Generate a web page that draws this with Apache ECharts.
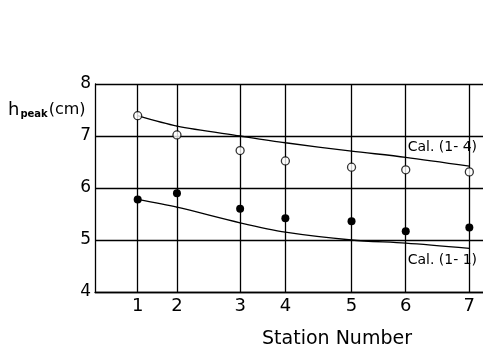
<!DOCTYPE html>
<html><head><meta charset="utf-8">
<script src="https://cdn.jsdelivr.net/npm/echarts@6/dist/echarts.min.js"></script>
<style>html,body{margin:0;padding:0;background:#fff}#c{width:483px;height:350px}</style>
</head><body><div id="c"></div>
<script>
const stationLabels = ['1','2','3','4','5','6','7'];
const stationPos = [1.00, 1.92, 3.40, 4.46, 6.01, 7.28, 8.77];
const yTicks = [4,5,6,7,8];
const measuredOpen = [7.39, 7.02, 6.72, 6.52, 6.40, 6.35, 6.31];
const measuredFilled = [5.78, 5.90, 5.60, 5.42, 5.36, 5.17, 5.24];
const cal14 = [7.39, 7.19, 7.00, 6.87, 6.71, 6.59, 6.42];
const cal11 = [5.78, 5.63, 5.33, 5.15, 5.00, 4.94, 4.84];
const FONT = 'DejaVu Sans';

const pair = arr => arr.map((v,i)=>[stationPos[i], v]);
function withEndLabel(arr, text, pos, offset){
  const d = pair(arr);
  const last = d.length-1;
  d[last] = {value: d[last], label:{show:true, formatter:text, position:pos, offset:offset,
    color:'#000', fontFamily:FONT, fontSize:14, backgroundColor:'#fff', padding:[1,1]}};
  return d;
}

const chart = echarts.init(document.getElementById('c'));
chart.setOption({
  animation:false,
  backgroundColor:'#fff',
  grid:{left:95, right:0, top:84, bottom:58},
  xAxis:{type:'value', min:0, max:9.09,
    axisLine:{show:true, lineStyle:{color:'#000', width:1.3}},
    axisTick:{show:false},
    splitLine:{show:false},
    axisLabel:{customValues:stationPos, color:'#000', fontFamily:FONT, fontSize:18, margin:5,
      formatter:v=>{const i=stationPos.findIndex(p=>Math.abs(p-v)<1e-6); return i>=0?stationLabels[i]:'';}}
  },
  yAxis:{type:'value', min:yTicks[0], max:yTicks[yTicks.length-1], interval:1,
    axisLine:{show:true, lineStyle:{color:'#000', width:1.3}},
    axisTick:{show:false},
    splitLine:{show:true, lineStyle:{color:'#000', width:1.3}},
    axisLabel:{color:'#000', fontFamily:FONT, fontSize:17, margin:4}
  },
  graphic:[
    {type:'text', left:8, top:101, style:{
      text:'{h|h}{s|peak}{c|(cm)}',
      rich:{h:{fontSize:18, fontFamily:FONT, fill:'#000'},
            s:{fontSize:10, fontWeight:'bold', fontFamily:FONT, fill:'#000', padding:[8,1,0,1]},
            c:{fontSize:16, fontFamily:FONT, fill:'#000'}}}},
    {type:'text', x:337, y:339, style:{text:'Station Number', fontSize:19, fontFamily:FONT, fill:'#000',
      align:'center', verticalAlign:'middle'}}
  ],
  series:[
    {type:'line', data:withEndLabel(cal14,'Cal. (1- 4)','top',[-27,-5]), smooth:0.3,
      symbol:'circle', symbolSize:1, showSymbol:true, itemStyle:{color:'#000'},
      lineStyle:{color:'#000', width:1.3}, z:3},
    {type:'line', data:withEndLabel(cal11,'Cal. (1- 1)','bottom',[-27,-1]), smooth:0.3,
      symbol:'circle', symbolSize:1, showSymbol:true, itemStyle:{color:'#000'},
      lineStyle:{color:'#000', width:1.3}, z:3},
    {type:'scatter', data:pair(measuredOpen), symbol:'circle', symbolSize:8,
      itemStyle:{color:'#fff', borderColor:'#000', borderWidth:1.3}, z:5},
    {type:'scatter', data:pair(measuredFilled), symbol:'circle', symbolSize:8,
      itemStyle:{color:'#000', opacity:1}, z:5,
      markLine:{silent:true, symbol:'none', label:{show:false},
        lineStyle:{color:'#000', width:1.3, type:'solid'},
        data:stationPos.map(p=>({xAxis:p}))}}
  ]
});
</script></body></html>
